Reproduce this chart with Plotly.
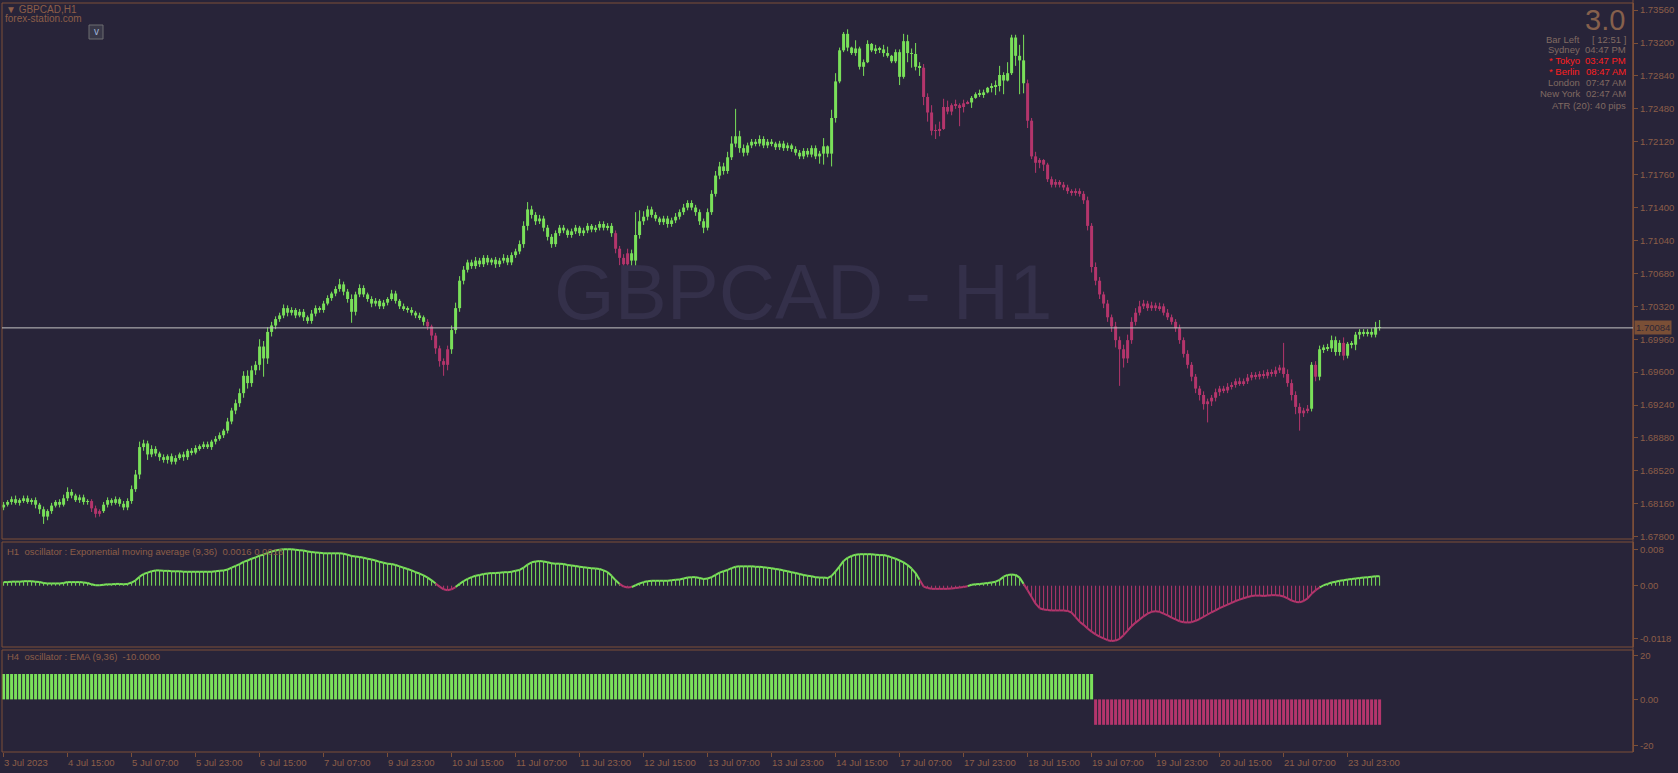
import plotly.graph_objects as go

# ---------------- DATA ----------------
first_open = 1.6812
closes = [
    1.6815, 1.6818, 1.6821, 1.6817, 1.6820, 1.6822, 1.6818, 1.6820, 1.6815, 1.6810,
    1.6802, 1.6808, 1.6814, 1.6818, 1.6815, 1.6822, 1.6829, 1.6825, 1.6820, 1.6823,
    1.6818, 1.6819, 1.6811, 1.6805, 1.6808, 1.6815, 1.6820, 1.6817, 1.6821, 1.6816,
    1.6812, 1.6819, 1.6832, 1.6848, 1.6878, 1.6882, 1.6870, 1.6876, 1.6871, 1.6867,
    1.6864, 1.6868, 1.6862, 1.6866, 1.6870, 1.6867, 1.6874, 1.6872, 1.6877, 1.6879,
    1.6881, 1.6878, 1.6884, 1.6887, 1.6891, 1.6896, 1.6906, 1.6918, 1.6926, 1.6937,
    1.6956, 1.6948, 1.6962, 1.6968, 1.6988, 1.6975, 1.7004, 1.7011, 1.7018, 1.7022,
    1.7030, 1.7025, 1.7028, 1.7022, 1.7026, 1.7020, 1.7016, 1.7024, 1.7030, 1.7028,
    1.7035, 1.7041, 1.7046, 1.7051, 1.7056, 1.7048, 1.7040, 1.7026, 1.7045, 1.7052,
    1.7045, 1.7040, 1.7035, 1.7038, 1.7032, 1.7036, 1.7040, 1.7046, 1.7038, 1.7032,
    1.7030, 1.7028, 1.7025, 1.7022, 1.7020, 1.7015, 1.7010, 1.7000, 1.6986, 1.6972,
    1.6968, 1.6985, 1.7006, 1.7030, 1.7060, 1.7072, 1.7080, 1.7076, 1.7082, 1.7078,
    1.7085, 1.7080, 1.7083, 1.7078, 1.7082, 1.7085, 1.7080, 1.7088, 1.7092, 1.7100,
    1.7120, 1.7138, 1.7132, 1.7125, 1.7128, 1.7118, 1.7108, 1.7100, 1.7112, 1.7118,
    1.7115, 1.7110, 1.7114, 1.7118, 1.7112, 1.7115, 1.7120, 1.7116, 1.7118, 1.7122,
    1.7118, 1.7120, 1.7112, 1.7095, 1.7085, 1.7078, 1.7090, 1.7082, 1.7110, 1.7125,
    1.7130, 1.7138, 1.7132, 1.7128, 1.7124, 1.7128, 1.7122, 1.7126, 1.7130, 1.7135,
    1.7140, 1.7145, 1.7140, 1.7135, 1.7125, 1.7118, 1.7135, 1.7155, 1.7175, 1.7185,
    1.7180, 1.7195, 1.7210, 1.7218, 1.7205, 1.7200, 1.7208, 1.7212, 1.7210, 1.7215,
    1.7208, 1.7212, 1.7210, 1.7206, 1.7210, 1.7205, 1.7208, 1.7204, 1.7200, 1.7196,
    1.7202, 1.7198, 1.7205, 1.7196, 1.7199, 1.7207, 1.7199, 1.7238, 1.7278, 1.7312,
    1.7330, 1.7315, 1.7309, 1.7314, 1.7294, 1.7299, 1.7319, 1.7312, 1.7314, 1.7313,
    1.7309, 1.7306, 1.7300, 1.7310, 1.7283, 1.7322, 1.7309, 1.7308, 1.7294, 1.7293,
    1.7261, 1.7244, 1.7224, 1.7224, 1.7226, 1.7250, 1.7245, 1.7252, 1.7252, 1.7250,
    1.7254, 1.7255, 1.7260, 1.7264, 1.7264, 1.7266, 1.7271, 1.7272, 1.7273, 1.7285,
    1.7279, 1.7287, 1.7326, 1.7306, 1.7301, 1.7276, 1.7235, 1.7196, 1.7189, 1.7192,
    1.7187, 1.7171, 1.7165, 1.7168, 1.7165, 1.7162, 1.7158, 1.7156, 1.7158, 1.7155,
    1.7148, 1.7120, 1.7075, 1.7060, 1.7045, 1.7035, 1.7020, 1.7010, 1.6995, 1.6985,
    1.6975, 1.6995, 1.7015, 1.7025, 1.7032, 1.7035, 1.7030, 1.7033, 1.7030, 1.7032,
    1.7025, 1.7020, 1.7015, 1.7008, 1.6995, 1.6980, 1.6968, 1.6955, 1.6942, 1.6935,
    1.6925, 1.6928, 1.6932, 1.6938, 1.6942, 1.6940, 1.6944, 1.6946, 1.6950, 1.6948,
    1.6950, 1.6954, 1.6957, 1.6955, 1.6958, 1.6956, 1.6960, 1.6958, 1.6962, 1.6965,
    1.6958, 1.6948, 1.6935, 1.6922, 1.6915, 1.6918, 1.6920, 1.6968, 1.6955, 1.6985,
    1.6987, 1.6986, 1.6995, 1.6982, 1.6992, 1.6978, 1.6991, 1.6990, 1.7001, 1.7004,
    1.7002, 1.7004, 1.7001, 1.7009, 1.70084,
]
upper_wick_pips = [
    3, 2, 3, 4, 2, 3, 3, 2, 3, 2,
    3, 2, 3, 2, 3, 4, 5, 3, 2, 3,
    3, 2, 2, 3, 2, 3, 3, 2, 3, 2,
    3, 3, 4, 5, 6, 4, 3, 4, 3, 2,
    3, 2, 3, 3, 2, 3, 2, 3, 3, 2,
    3, 3, 2, 3, 3, 2, 4, 3, 4, 5,
    5, 6, 5, 4, 8, 6, 5, 4, 3, 3,
    4, 3, 3, 2, 3, 3, 2, 4, 3, 2,
    3, 3, 2, 3, 6, 3, 3, 5, 3, 4,
    3, 2, 3, 3, 2, 3, 2, 4, 3, 2,
    3, 2, 3, 2, 3, 2, 3, 2, 3, 3,
    3, 4, 5, 6, 5, 4, 3, 3, 4, 3,
    3, 3, 2, 3, 3, 4, 3, 3, 3, 4,
    5, 8, 4, 3, 4, 3, 3, 3, 3, 3,
    3, 2, 3, 3, 2, 3, 3, 2, 3, 3,
    3, 3, 3, 3, 3, 4, 5, 4, 25, 12,
    6, 4, 3, 3, 2, 3, 3, 3, 4, 3,
    4, 3, 3, 3, 3, 3, 4, 4, 5, 5,
    4, 6, 8, 30, 6, 4, 3, 3, 3, 4,
    3, 3, 3, 2, 3, 3, 3, 2, 3, 3,
    3, 3, 3, 3, 3, 9, 1, 9, 9, 3,
    2, 5, 1, 9, 2, 3, 4, 1, 4, 2,
    5, 7, 1, 3, 3, 8, 7, 5, 12, 5,
    4, 4, 8, 7, 8, 9, 7, 2, 6, 2,
    4, 2, 2, 2, 5, 3, 1, 4, 6, 10,
    3, 12, 3, 3, 12, 28, 4, 3, 5, 2,
    1, 2, 3, 3, 2, 3, 3, 2, 3, 3,
    3, 4, 3, 5, 4, 3, 4, 3, 5, 4,
    5, 6, 5, 5, 6, 4, 3, 4, 3, 4,
    3, 4, 3, 3, 4, 3, 4, 3, 3, 3,
    4, 3, 3, 4, 3, 3, 4, 3, 3, 4,
    3, 4, 3, 3, 3, 4, 3, 3, 4, 3,
    27, 5, 4, 4, 4, 3, 4, 3, 4, 4,
    3, 4, 5, 4, 3, 6, 2, 3, 3, 3,
    3, 3, 4, 6, 8,
]
lower_wick_pips = [
    3, 2, 3, 2, 3, 3, 2, 3, 4, 5,
    8, 4, 3, 2, 3, 2, 3, 3, 2, 3,
    3, 3, 4, 4, 3, 2, 3, 3, 2, 3,
    3, 3, 3, 3, 5, 4, 6, 3, 3, 4,
    3, 4, 3, 3, 2, 4, 3, 3, 2, 3,
    3, 2, 3, 3, 2, 3, 3, 3, 4, 4,
    5, 6, 4, 5, 6, 20, 6, 5, 4, 3,
    3, 4, 3, 3, 2, 4, 3, 3, 3, 3,
    3, 2, 3, 3, 3, 4, 4, 12, 4, 3,
    3, 3, 4, 3, 3, 3, 3, 2, 3, 3,
    3, 3, 3, 3, 3, 4, 4, 5, 6, 6,
    12, 6, 5, 4, 4, 4, 3, 3, 3, 3,
    3, 3, 3, 4, 3, 3, 3, 3, 3, 3,
    4, 5, 4, 4, 3, 4, 4, 4, 3, 3,
    3, 3, 3, 3, 3, 3, 3, 3, 3, 3,
    3, 3, 4, 5, 8, 8, 5, 6, 10, 4,
    4, 4, 3, 3, 3, 3, 4, 3, 3, 3,
    3, 3, 3, 4, 4, 6, 3, 3, 3, 4,
    4, 3, 3, 4, 5, 4, 3, 3, 3, 3,
    3, 3, 3, 3, 3, 3, 3, 3, 3, 3,
    3, 3, 3, 3, 8, 12, 4, 14, 5, 2,
    2, 4, 2, 3, 3, 10, 1, 2, 4, 4,
    4, 2, 2, 2, 9, 2, 10, 15, 4, 9,
    9, 10, 5, 9, 6, 1, 3, 4, 4, 21,
    6, 1, 6, 1, 3, 4, 1, 5, 9, 6,
    15, 1, 2, 11, 37, 11, 8, 3, 11, 6,
    7, 3, 3, 3, 3, 3, 3, 3, 3, 3,
    4, 5, 6, 5, 5, 5, 5, 6, 8, 40,
    10, 5, 4, 4, 3, 3, 3, 3, 3, 3,
    3, 3, 3, 4, 4, 4, 4, 5, 5, 6,
    6, 20, 5, 4, 4, 3, 3, 3, 3, 3,
    3, 3, 3, 3, 3, 3, 3, 3, 3, 3,
    4, 4, 6, 8, 19, 4, 3, 3, 5, 4,
    4, 3, 4, 4, 4, 5, 3, 4, 6, 5,
    3, 3, 3, 3, 3,
]
# candle colour (trend state) as runs: ("up"/"down", number of bars)
candle_state_runs = [
    ("up", 22), ("down", 3), ("up", 81), ("down", 6), ("up", 41), ("down", 4),
    ("up", 73), ("down", 12), ("up", 14), ("down", 71), ("up", 1), ("down", 1),
    ("up", 6), ("down", 1), ("up", 9),
]
osc_h1 = [
    0.0008, 0.0008, 0.0009, 0.0009, 0.0009, 0.0010, 0.0010, 0.0010, 0.0009, 0.0008,
    0.0006, 0.0005, 0.0005, 0.0005, 0.0005, 0.0006, 0.0008, 0.0008, 0.0008, 0.0008,
    0.0007, 0.0006, 0.0003, 0.0001, 0.0001, 0.0002, 0.0003, 0.0003, 0.0004, 0.0004,
    0.0003, 0.0004, 0.0007, 0.0012, 0.0020, 0.0026, 0.0029, 0.0032, 0.0034, 0.0034,
    0.0033, 0.0033, 0.0032, 0.0032, 0.0032, 0.0031, 0.0031, 0.0031, 0.0031, 0.0031,
    0.0031, 0.0031, 0.0031, 0.0032, 0.0033, 0.0034, 0.0036, 0.0040, 0.0044, 0.0048,
    0.0053, 0.0056, 0.0060, 0.0063, 0.0067, 0.0069, 0.0073, 0.0076, 0.0078, 0.0080,
    0.0081, 0.0081, 0.0081, 0.0080, 0.0079, 0.0078, 0.0076, 0.0075, 0.0074, 0.0073,
    0.0072, 0.0072, 0.0072, 0.0072, 0.0072, 0.0071, 0.0069, 0.0066, 0.0065, 0.0064,
    0.0062, 0.0060, 0.0058, 0.0056, 0.0053, 0.0051, 0.0049, 0.0048, 0.0046, 0.0043,
    0.0040, 0.0037, 0.0034, 0.0030, 0.0027, 0.0023, 0.0018, 0.0012, 0.0005, -0.0002,
    -0.0008, -0.0010, -0.0008, -0.0003, 0.0004, 0.0010, 0.0015, 0.0019, 0.0022, 0.0024,
    0.0026, 0.0027, 0.0028, 0.0028, 0.0029, 0.0030, 0.0030, 0.0031, 0.0033, 0.0035,
    0.0040, 0.0047, 0.0052, 0.0054, 0.0055, 0.0054, 0.0052, 0.0050, 0.0049, 0.0049,
    0.0048, 0.0046, 0.0045, 0.0044, 0.0042, 0.0041, 0.0040, 0.0039, 0.0038, 0.0037,
    0.0034, 0.0030, 0.0022, 0.0012, 0.0004, -0.0002, -0.0004, -0.0003, 0.0001, 0.0005,
    0.0008, 0.0010, 0.0011, 0.0011, 0.0011, 0.0011, 0.0011, 0.0012, 0.0013, 0.0014,
    0.0016, 0.0018, 0.0019, 0.0019, 0.0017, 0.0015, 0.0016, 0.0019, 0.0024, 0.0029,
    0.0032, 0.0035, 0.0039, 0.0042, 0.0043, 0.0043, 0.0043, 0.0043, 0.0042, 0.0042,
    0.0041, 0.0040, 0.0039, 0.0037, 0.0036, 0.0034, 0.0032, 0.0030, 0.0028, 0.0026,
    0.0024, 0.0022, 0.0021, 0.0019, 0.0018, 0.0018, 0.0017, 0.0022, 0.0032, 0.0043,
    0.0055, 0.0062, 0.0066, 0.0069, 0.0070, 0.0070, 0.0070, 0.0070, 0.0069, 0.0068,
    0.0068, 0.0066, 0.0063, 0.0060, 0.0056, 0.0052, 0.0046, 0.0038, 0.0028, 0.0013,
    -0.0002, -0.0005, -0.0007, -0.0007, -0.0007, -0.0007, -0.0007, -0.0006, -0.0005, -0.0004,
    -0.0003, -0.0001, 0.0002, 0.0003, 0.0004, 0.0005, 0.0006, 0.0007, 0.0009, 0.0013,
    0.0020, 0.0024, 0.0025, 0.0024, 0.0018, 0.0004, -0.0010, -0.0025, -0.0040, -0.0050,
    -0.0053, -0.0054, -0.0055, -0.0055, -0.0055, -0.0055, -0.0056, -0.0060, -0.0070, -0.0080,
    -0.0087, -0.0095, -0.0102, -0.0108, -0.0113, -0.0117, -0.0121, -0.0123, -0.0122, -0.0118,
    -0.0110, -0.0100, -0.0090, -0.0082, -0.0075, -0.0068, -0.0062, -0.0058, -0.0057, -0.0058,
    -0.0062, -0.0066, -0.0071, -0.0075, -0.0079, -0.0081, -0.0082, -0.0081, -0.0078, -0.0074,
    -0.0069, -0.0064, -0.0059, -0.0055, -0.0050, -0.0046, -0.0042, -0.0038, -0.0034, -0.0031,
    -0.0028, -0.0025, -0.0023, -0.0022, -0.0022, -0.0023, -0.0022, -0.0021, -0.0021, -0.0022,
    -0.0024, -0.0028, -0.0033, -0.0036, -0.0037, -0.0034, -0.0028, -0.0018, -0.0010, -0.0004,
    0.0001, 0.0004, 0.0007, 0.0009, 0.0011, 0.0012, 0.0014, 0.0015, 0.0016, 0.0017,
    0.0018, 0.0019, 0.0020, 0.0021, 0.0021,
]
# H4 oscillator state as runs: (value, number of H1 bars)
h4_runs = [(10.0, 273), (-10.0, 72)]

time_labels = [
    "3 Jul 2023", "4 Jul 15:00", "5 Jul 07:00", "5 Jul 23:00", "6 Jul 15:00",
    "7 Jul 07:00", "9 Jul 23:00", "10 Jul 15:00", "11 Jul 07:00", "11 Jul 23:00",
    "12 Jul 15:00", "13 Jul 07:00", "13 Jul 23:00", "14 Jul 15:00", "17 Jul 07:00",
    "17 Jul 23:00", "18 Jul 15:00", "19 Jul 07:00", "19 Jul 23:00", "20 Jul 15:00",
    "21 Jul 07:00", "23 Jul 23:00",
]
bars_per_label = 16
price_ticks = [1.67800, 1.68160, 1.68520, 1.68880, 1.69240, 1.69600, 1.69960, 1.70320,
               1.70680, 1.71040, 1.71400, 1.71760, 1.72120, 1.72480, 1.72840, 1.73200, 1.73560]
current_price = 1.70084
osc_ticks = [0.008, 0.0, -0.0118]
osc_tick_labels = ["0.008", "0.00", "-0.0118"]
# the terminal prints its H4 scale labels at these heights of the sub-window
h4_tick_positions = [17.1, 0, -18.2]
h4_tick_labels = ["20", "0.00", "-20"]

symbol_title = "GBPCAD,H1"
site_title = "forex-station.com"
watermark = "GBPCAD - H1"
spread_text = "3.0"
info_rows = [
    ("Bar Left", "[ 12:51 ]", False),
    ("Sydney", "04:47 PM", False),
    ("* Tokyo", "03:47 PM", True),
    ("* Berlin", "08:47 AM", True),
    ("London", "07:47 AM", False),
    ("New York", "02:47 AM", False),
]
atr_text = "ATR (20): 40 pips"
h1_title = "H1  oscillator : Exponential moving average (9,36)  0.0016 0.0016"
h4_title = "H4  oscillator : EMA (9,36)  -10.0000"

# ---------------- STYLE ----------------
W, H = 1678, 773
BG = "#282439"
GREEN = "#7ae05a"
RED = "#b4356c"
AXIS = "#7c4f38"
TXT = "#8c5e48"
INFO = "#806a62"
FONT = "Liberation Sans, Arial, sans-serif"
FS = 9.5
BAR_PX = 4.0
X0_PX = 3.6
PL, PR = 2, 1633
MAIN_T, MAIN_B = 3, 539
OSC_T, OSC_B = 542, 647
H4_T, H4_B = 650, 752


def fx(p):
    return p / W


def fy(p):
    return 1 - p / H


def nb(s):
    return s.replace("  ", "\u00a0\u00a0")


# ---------------- derived series ----------------
n = len(closes)
idx = list(range(n))
opens = [first_open] + closes[:-1]
PIP = 0.0001
highs = [max(o, c) + u * PIP for o, c, u in zip(opens, closes, upper_wick_pips)]
lows = [min(o, c) - d * PIP for o, c, d in zip(opens, closes, lower_wick_pips)]
states = []
for s, cnt in candle_state_runs:
    states += [s] * cnt
h4_values = []
for v, cnt in h4_runs:
    h4_values += [v] * cnt

x_range = [(PL - X0_PX) / BAR_PX, (PR - X0_PX) / BAR_PX]
p_per_px = (price_ticks[-1] - price_ticks[0]) / (536.7 - 10.1)
y_main = [price_ticks[0] - (MAIN_B - 536.7) * p_per_px, price_ticks[-1] + (10.1 - MAIN_T) * p_per_px]
o_per_px = 0.008 / (585.7 - 549.7)
y_osc = [-(OSC_B - 585.7) * o_per_px, (585.7 - OSC_T) * o_per_px]
H4_ZERO = 699.4
h_per_px = 10.0 / (H4_ZERO - 674.0)
y_h4 = [-(H4_B - H4_ZERO) * h_per_px, (H4_ZERO - H4_T) * h_per_px]

fig = go.Figure()

# candles: wicks
for key, col in (("up", GREEN), ("down", RED)):
    xs, ys = [], []
    for i in idx:
        if states[i] == key:
            xs += [i, i, None]
            ys += [lows[i], highs[i], None]
    fig.add_trace(go.Scatter(x=xs, y=ys, mode="lines", line=dict(color=col, width=1),
                             xaxis="x", yaxis="y", hoverinfo="skip"))
# candles: bodies
fig.add_trace(go.Bar(
    x=idx,
    y=[max(abs(c - o), 0.00004) for o, c in zip(opens, closes)],
    base=[min(o, c) for o, c in zip(opens, closes)],
    width=0.75,
    marker=dict(color=[GREEN if s == "up" else RED for s in states], line=dict(width=0)),
    xaxis="x", yaxis="y", hoverinfo="skip"))

# H1 oscillator histogram
for pos, col in ((True, GREEN), (False, RED)):
    xs, ys = [], []
    for i, v in enumerate(osc_h1):
        if (v >= 0) == pos:
            xs += [i, i, None]
            ys += [0, v, None]
    fig.add_trace(go.Scatter(x=xs, y=ys, mode="lines", line=dict(color=col, width=1),
                             xaxis="x2", yaxis="y2", hoverinfo="skip"))
# H1 oscillator line
segs = {GREEN: ([], []), RED: ([], [])}
for i in range(1, len(osc_h1)):
    col = GREEN if osc_h1[i] >= 0 else RED
    xs, ys = segs[col]
    xs += [i - 1, i, None]
    ys += [osc_h1[i - 1], osc_h1[i], None]
for col, (xs, ys) in segs.items():
    fig.add_trace(go.Scatter(x=xs, y=ys, mode="lines", line=dict(color=col, width=2),
                             xaxis="x2", yaxis="y2", hoverinfo="skip"))

# H4 oscillator bars
fig.add_trace(go.Bar(x=idx, y=h4_values, width=0.75,
                     marker=dict(color=[GREEN if v >= 0 else RED for v in h4_values], line=dict(width=0)),
                     xaxis="x3", yaxis="y3", hoverinfo="skip"))

xdom = [fx(PL), fx(PR)]
common_y = dict(side="right", ticks="outside", ticklen=4, tickcolor=AXIS,
                tickfont=dict(family=FONT, size=FS, color=TXT), showgrid=False,
                zeroline=False, showline=True, linecolor=AXIS, automargin=False, fixedrange=True)
fig.update_layout(
    width=W, height=H, margin=dict(l=0, r=0, t=0, b=0),
    paper_bgcolor=BG, plot_bgcolor=BG, showlegend=False, barmode="overlay",
    hovermode=False,
    xaxis=dict(domain=xdom, range=x_range, visible=False, anchor="y"),
    xaxis2=dict(domain=xdom, range=x_range, visible=False, anchor="y2"),
    xaxis3=dict(domain=xdom, range=x_range, anchor="y3", showticklabels=False,
                tickvals=[bars_per_label * k for k in range(len(time_labels))],
                ticks="outside", ticklen=4, tickcolor=AXIS, showgrid=False, zeroline=False,
                showline=False, automargin=False),
    yaxis=dict(domain=[fy(MAIN_B), fy(MAIN_T)], range=y_main, anchor="x",
               tickvals=price_ticks, ticktext=[f"{v:.5f}" for v in price_ticks], **common_y),
    yaxis2=dict(domain=[fy(OSC_B), fy(OSC_T)], range=y_osc, anchor="x2",
                tickvals=osc_ticks, ticktext=osc_tick_labels, **common_y),
    yaxis3=dict(domain=[fy(H4_B), fy(H4_T)], range=y_h4, anchor="x3",
                tickvals=h4_tick_positions, ticktext=h4_tick_labels, **common_y),
)

shapes = []
for t, b in ((MAIN_T, MAIN_B), (OSC_T, OSC_B), (H4_T, H4_B)):
    shapes.append(dict(type="rect", xref="paper", yref="paper", x0=fx(PL), x1=fx(PR),
                       y0=fy(b), y1=fy(t), line=dict(color=AXIS, width=1), layer="above"))
shapes.append(dict(type="line", xref="paper", yref="paper", x0=fx(PR), x1=fx(PR),
                   y0=fy(H4_B), y1=1, line=dict(color=AXIS, width=1)))
# current price line
shapes.append(dict(type="line", xref="paper", yref="y", x0=fx(PL), x1=fx(PR),
                   y0=current_price, y1=current_price, line=dict(color="#c4c4c4", width=1)))
# "v" button
shapes.append(dict(type="rect", xref="paper", yref="paper", x0=fx(89), x1=fx(103),
                   y0=fy(39), y1=fy(25), line=dict(color="#6c6c70", width=1), fillcolor="#393848"))
fig.update_layout(shapes=shapes)

ann = []
ann.append(dict(text=watermark, x=fx(803), y=fy(292), xref="paper", yref="paper",
                showarrow=False, font=dict(family="Liberation Sans, Arial", size=78, color="#34304a")))
ann.append(dict(text="\u25bc " + symbol_title, x=fx(4), y=fy(9), xref="paper", yref="paper",
                xanchor="left", yanchor="middle", showarrow=False,
                font=dict(family=FONT, size=FS + 0.5, color=TXT)))
ann.append(dict(text=site_title, x=fx(3), y=fy(19), xref="paper", yref="paper",
                xanchor="left", yanchor="middle", showarrow=False,
                font=dict(family=FONT, size=FS + 0.5, color=TXT)))
ann.append(dict(text="v", x=fx(96), y=fy(31.5), xref="paper", yref="paper",
                xanchor="center", yanchor="middle", showarrow=False,
                font=dict(family="Liberation Sans", size=10, color="#9fb4d8")))
ann.append(dict(text=spread_text, x=fx(1627), y=fy(20), xref="paper", yref="paper",
                xanchor="right", yanchor="middle", showarrow=False,
                font=dict(family="Liberation Sans, Arial", size=29, color="#86604c")))
row_y = [39, 50, 61, 71.7, 82.7, 93.3]
for (lab, val, hot), yy in zip(info_rows, row_y):
    col = "#ff1f1f" if hot else INFO
    ann.append(dict(text=lab, x=fx(1582), y=fy(yy), xref="paper", yref="paper",
                    xanchor="right", yanchor="middle", showarrow=False,
                    font=dict(family=FONT, size=FS, color=col)))
    ann.append(dict(text=val, x=fx(1628), y=fy(yy), xref="paper", yref="paper",
                    xanchor="right", yanchor="middle", showarrow=False,
                    font=dict(family=FONT, size=FS, color=col)))
ann.append(dict(text=atr_text, x=fx(1628), y=fy(105), xref="paper", yref="paper",
                xanchor="right", yanchor="middle", showarrow=False,
                font=dict(family=FONT, size=FS, color=INFO)))
ann.append(dict(text=nb(h1_title), x=fx(5), y=fy(551.5), xref="paper", yref="paper",
                xanchor="left", yanchor="middle", showarrow=False,
                font=dict(family=FONT, size=FS, color=TXT)))
ann.append(dict(text=nb(h4_title), x=fx(5), y=fy(656.5), xref="paper", yref="paper",
                xanchor="left", yanchor="middle", showarrow=False,
                font=dict(family=FONT, size=FS, color=TXT)))
ann.append(dict(text=f"{current_price:.5f}", x=fx(1634), y=current_price, xref="paper", yref="y",
                xanchor="left", yanchor="middle", showarrow=False, bgcolor="#7a4f36",
                borderpad=1, font=dict(family=FONT, size=FS, color="#2c2636")))
for k, lab in enumerate(time_labels):
    ann.append(dict(text=lab, x=bars_per_label * k, y=fy(762), xref="x3", yref="paper",
                    xanchor="left", yanchor="middle", showarrow=False, xshift=-2,
                    font=dict(family=FONT, size=FS, color=TXT)))
fig.update_layout(annotations=ann)

fig.write_html("out.html", config={"displayModeBar": False},
               post_script="document.body.style.margin='0';document.body.style.overflow='hidden';")
